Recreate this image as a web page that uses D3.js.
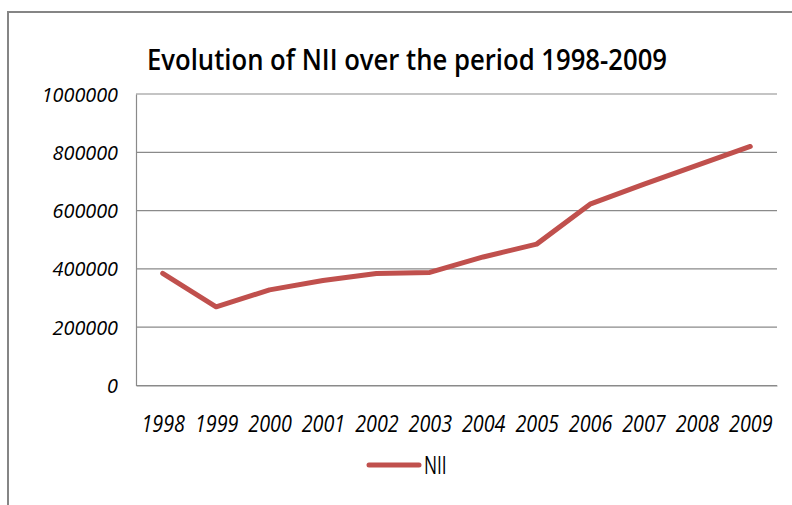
<!DOCTYPE html>
<html>
<head>
<meta charset="utf-8">
<script src="https://cdn.jsdelivr.net/npm/d3@7"></script>
<style>
  html, body { margin: 0; padding: 0; background: #fff; }
  svg { display: block; }
  text { font-family: "Open Sans", "Noto Sans", sans-serif; fill: #000; }
</style>
</head>
<body>
<svg id="chart" width="792" height="505"></svg>
<script>
const years = ["1998","1999","2000","2001","2002","2003","2004","2005","2006","2007","2008","2009"];
const nii = [385000, 270000, 328000, 360000, 384000, 388000, 441000, 485000, 622000, 690000, 755000, 820000];
const yTicks = [0, 200000, 400000, 600000, 800000, 1000000];
const titleText = "Evolution of NII over the period 1998-2009";
const seriesName = "NII";

const svg = d3.select("#chart");
const W = 792, H = 505;
const plot = { left: 136, right: 777, top: 94, bottom: 385.5 };
const lineColor = "#C0504D";
const gridColor = "#8a8a8a";

// outer frame (left and top edges visible)
svg.append("path")
  .attr("d", `M8,${H} L8,12 L${W},12`)
  .attr("fill", "none").attr("stroke", "#858585").attr("stroke-width", 2);

// title
svg.append("text")
  .attr("x", 147).attr("y", 70)
  .attr("font-size", 29.5).attr("font-weight", 600)
  .attr("textLength", 520).attr("lengthAdjust", "spacingAndGlyphs")
  .text(titleText);

const x = d3.scalePoint().domain(years).range([plot.left, plot.right]).padding(0.5);
const y = d3.scaleLinear().domain([0, 1000000]).range([plot.bottom, plot.top]);

// gridlines
svg.append("g").selectAll("line").data(yTicks).join("line")
  .attr("x1", plot.left).attr("x2", plot.right)
  .attr("y1", d => y(d)).attr("y2", d => y(d))
  .attr("stroke", gridColor).attr("stroke-width", 1.2);

// y axis
const yAxis = svg.append("g").attr("transform", `translate(${plot.left},0)`)
  .call(d3.axisLeft(y).tickValues(yTicks).tickSize(0).tickPadding(18).tickFormat(d => String(d)));
yAxis.select(".domain").attr("stroke", gridColor).attr("stroke-width", 1.2);
yAxis.selectAll("text")
  .attr("font-family", "'Open Sans', sans-serif")
  .attr("font-style", "italic").attr("font-size", 19.5).attr("fill", "#111")
  .attr("dy", 0).attr("y", 7)
  .each(function(d) {
    const s = String(d);
    d3.select(this).attr("textLength", s.length * 10.9).attr("lengthAdjust", "spacingAndGlyphs");
  });

// x axis
const xAxis = svg.append("g").attr("transform", `translate(0,${plot.bottom})`)
  .call(d3.axisBottom(x).tickSize(0));
xAxis.select(".domain").attr("stroke", gridColor).attr("stroke-width", 1.2);
xAxis.selectAll("text")
  .attr("font-family", "'Open Sans', sans-serif")
  .attr("font-style", "italic").attr("font-size", 23).attr("fill", "#111")
  .attr("dy", 0).attr("y", 46)
  .attr("textLength", 43.5).attr("lengthAdjust", "spacingAndGlyphs");

// line
const line = d3.line().x((d, i) => x(years[i])).y(d => y(d));
svg.append("path").datum(nii)
  .attr("d", line)
  .attr("fill", "none").attr("stroke", lineColor).attr("stroke-width", 5)
  .attr("stroke-linecap", "round").attr("stroke-linejoin", "round");

// legend
const lg = svg.append("g");
lg.append("line").attr("x1", 369).attr("x2", 419).attr("y1", 465).attr("y2", 465)
  .attr("stroke", lineColor).attr("stroke-width", 5).attr("stroke-linecap", "round");
lg.append("text").attr("x", 424).attr("y", 473.5)
  .attr("font-size", 26).attr("textLength", 22.7).attr("lengthAdjust", "spacingAndGlyphs")
  .text(seriesName);
</script>
</body>
</html>
